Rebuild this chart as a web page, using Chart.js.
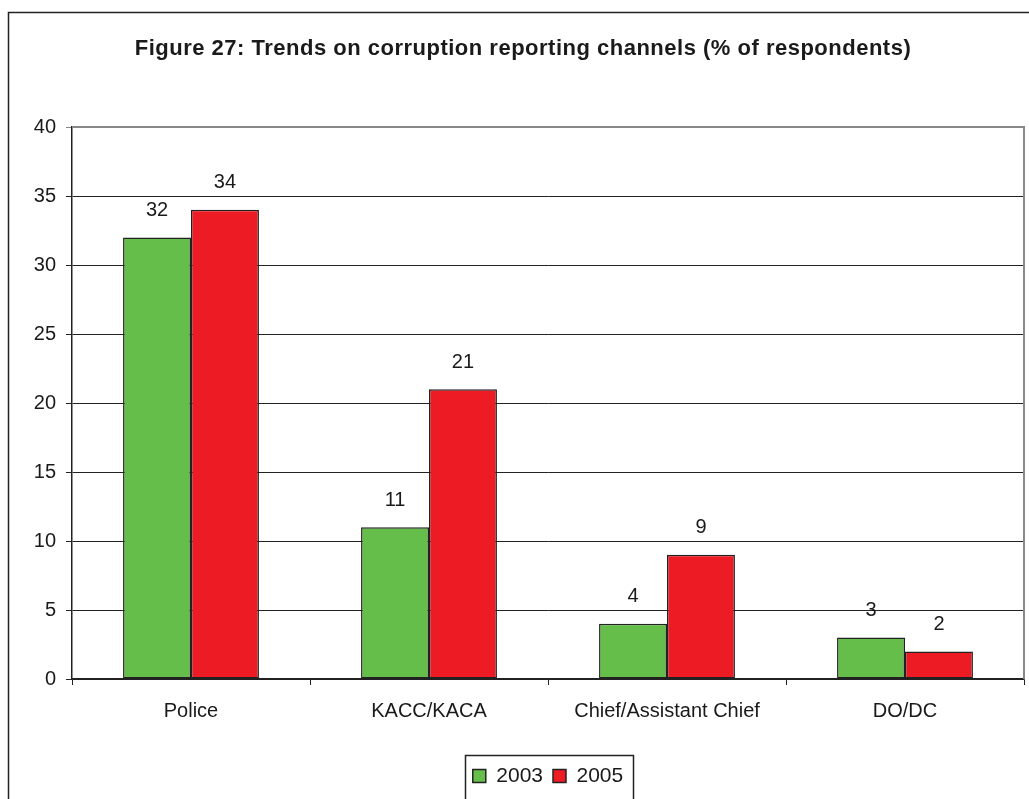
<!DOCTYPE html>
<html>
<head>
<meta charset="utf-8">
<script src="https://cdn.jsdelivr.net/npm/chart.js@4.4.1/dist/chart.umd.min.js"></script>
<style>
  html, body { margin: 0; padding: 0; background: #fff; }
  #wrap { width: 1029px; height: 799px; }
</style>
</head>
<body>
<div id="wrap"><canvas id="reportChart" width="1029" height="799"></canvas></div>
<script>
const channels = ["Police", "KACC/KACA", "Chief/Assistant Chief", "DO/DC"];
const values2003 = [32, 11, 4, 3];
const values2005 = [34, 21, 9, 2];
const yTicks = [0, 5, 10, 15, 20, 25, 30, 35, 40];
const chartTitle = "Figure 27: Trends on corruption reporting channels (% of respondents)";

const FONT = "'Liberation Sans', Arial, sans-serif";
const INK = "#1a1a1a";

// white page, outer frame, title, grey plot border on top/right
const framePlugin = {
  id: "frame",
  beforeDraw(chart) {
    const ctx = chart.ctx;
    ctx.save();
    ctx.fillStyle = "#fff";
    ctx.fillRect(0, 0, chart.width, chart.height);
    ctx.strokeStyle = "#222";
    ctx.lineWidth = 1.5;
    ctx.strokeRect(8.5, 12.5, chart.width + 20, chart.height + 20);

    // spaced bold title, centred on the frame
    ctx.font = "bold 22px " + FONT;
    ctx.letterSpacing = "0.5px";
    ctx.fillStyle = INK;
    ctx.textAlign = "center";
    ctx.textBaseline = "alphabetic";
    ctx.fillText(chartTitle, 523, 55);
    ctx.restore();
  },
  afterDraw(chart) {
    const { ctx, chartArea } = chart;
    ctx.save();
    ctx.strokeStyle = "#888";
    ctx.lineWidth = 2;
    ctx.beginPath();
    ctx.moveTo(chartArea.left, chartArea.top);
    ctx.lineTo(chartArea.right, chartArea.top);
    ctx.lineTo(chartArea.right, chartArea.bottom);
    ctx.stroke();

    // box around the legend items
    const boxes = chart.legend.legendHitBoxes;
    if (boxes && boxes.length) {
      const first = boxes[0];
      const last = boxes[boxes.length - 1];
      const l = Math.round(first.left) - 7.5;
      const r = Math.round(last.left + last.width) + 10.5;
      const t = Math.round(first.top) - 10.5;
      const b = Math.round(first.top + first.height) + 13.5;
      ctx.strokeStyle = "#222";
      ctx.lineWidth = 1.5;
      ctx.strokeRect(l, t, r - l, b - t);
    }
    ctx.restore();
  }
};

// value labels above each bar
const valueLabels = {
  id: "valueLabels",
  afterDatasetsDraw(chart) {
    const ctx = chart.ctx;
    ctx.save();
    ctx.font = "20px " + FONT;
    ctx.fillStyle = INK;
    ctx.textAlign = "center";
    ctx.textBaseline = "middle";
    chart.data.datasets.forEach((ds, i) => {
      chart.getDatasetMeta(i).data.forEach((bar, j) => {
        ctx.fillText(String(ds.data[j]), bar.x, bar.y - 27);
      });
    });
    ctx.restore();
  }
};

new Chart(document.getElementById("reportChart"), {
  type: "bar",
  data: {
    labels: channels,
    datasets: [
      {
        label: "2003",
        data: values2003,
        backgroundColor: "#65bd4a",
        borderColor: "#222",
        borderWidth: 1.5,
        borderSkipped: false
      },
      {
        label: "2005",
        data: values2005,
        backgroundColor: "#ed1c24",
        borderColor: "#222",
        borderWidth: 1.5,
        borderSkipped: false
      }
    ]
  },
  options: {
    responsive: false,
    animation: false,
    layout: { padding: { left: 0, right: 5, top: 127, bottom: 2.5 } },
    datasets: {
      bar: { barPercentage: 1, categoryPercentage: 0.571 }
    },
    plugins: {
      title: { display: false },
      legend: {
        position: "bottom",
        fullSize: false,
        labels: {
          color: INK,
          font: { family: FONT, size: 21 },
          boxWidth: 13,
          boxHeight: 13,
          padding: 10
        }
      },
      tooltip: { enabled: false }
    },
    scales: {
      x: {
        grid: {
          offset: true,
          drawOnChartArea: false,
          drawTicks: true,
          tickLength: 6,
          color: "#222"
        },
        border: { color: "#222", width: 1.5 },
        ticks: {
          color: INK,
          font: { family: FONT, size: 20 },
          padding: 14
        },
        afterFit(scale) { scale.height = 76.5; }
      },
      y: {
        min: 0,
        max: 40,
        afterBuildTicks(scale) {
          scale.ticks = yTicks.map(v => ({ value: v }));
        },
        grid: {
          color: ctx => (ctx.tick && ctx.tick.value === 40 ? "#888" : "#222"),
          lineWidth: 1,
          drawTicks: true,
          tickLength: 6
        },
        border: { color: "#222", width: 1.5 },
        ticks: {
          color: INK,
          font: { family: FONT, size: 20 },
          padding: 10
        },
        afterFit(scale) { scale.width = 72; }
      }
    }
  },
  plugins: [framePlugin, valueLabels]
});
</script>
</body>
</html>
